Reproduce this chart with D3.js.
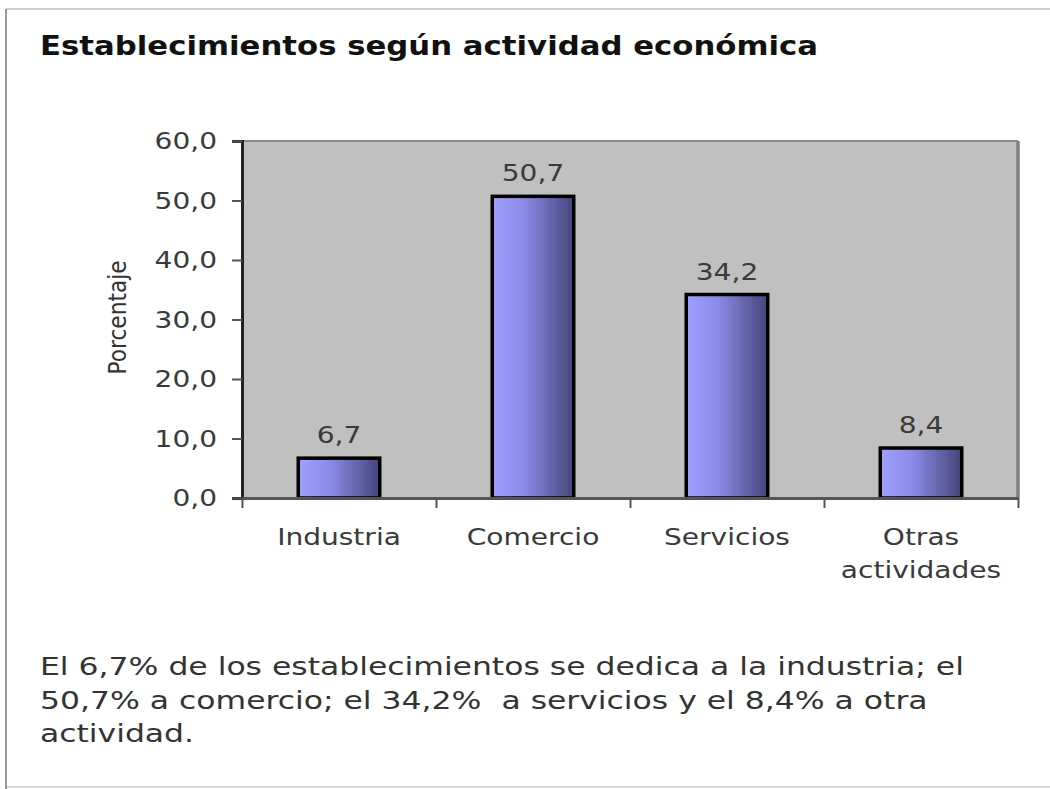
<!DOCTYPE html>
<html>
<head>
<meta charset="utf-8">
<script src="https://cdn.jsdelivr.net/npm/d3@7"></script>
<style>
  body { margin: 0; background: #fff; }
  text { font-family: "DejaVu Sans", Verdana, sans-serif; white-space: pre; }
</style>
</head>
<body>
<div id="chart"></div>
<script>
// data
var categories = ["Industria", "Comercio", "Servicios", "Otras actividades"];
var categoryLines = [["Industria"], ["Comercio"], ["Servicios"], ["Otras", "actividades"]];
var values = [6.7, 50.7, 34.2, 8.4];
var yTicks = [0, 10, 20, 30, 40, 50, 60];
var title = "Establecimientos según actividad económica";
var yLabel = "Porcentaje";
var note = [
  "El 6,7% de los establecimientos se dedica a la industria; el",
  "50,7% a comercio; el 34,2%  a servicios y el 8,4% a otra",
  "actividad."
];

var W = 1050, H = 789;
var plot = {left: 242, right: 1018, top: 141, bottom: 498};
var sx = 1.22; // text in the picture is stretched sideways

var comma = function(v, f) { return d3.format(f)(v).replace(".", ","); };

var svg = d3.select("#chart").append("svg")
  .attr("width", W)
  .attr("height", H);

// gradient for bars
var grad = svg.append("defs").append("linearGradient")
  .attr("id", "barGrad")
  .attr("x1", "0%").attr("x2", "100%").attr("y1", "0%").attr("y2", "0%");
grad.append("stop").attr("offset", "0%").attr("stop-color", "#a0a0ff");
grad.append("stop").attr("offset", "40%").attr("stop-color", "#8a8ae6");
grad.append("stop").attr("offset", "100%").attr("stop-color", "#45457a");

// outer frame
svg.append("line").attr("x1", 6).attr("x2", W).attr("y1", 9).attr("y2", 9)
  .attr("stroke", "#d0d0d0").attr("stroke-width", 2);
svg.append("line").attr("x1", 6).attr("x2", W).attr("y1", 787).attr("y2", 787)
  .attr("stroke", "#d8d8d8").attr("stroke-width", 2);
svg.append("line").attr("x1", 6).attr("x2", 6).attr("y1", 9).attr("y2", H)
  .attr("stroke", "#9a9a9a").attr("stroke-width", 2);

// scales
var x = d3.scaleBand()
  .domain(categories)
  .range([plot.left, plot.right])
  .padding(0);

var xEdge = d3.scaleLinear()
  .domain([0, categories.length])
  .range([plot.left, plot.right]);

var y = d3.scaleLinear()
  .domain([0, 60])
  .range([plot.bottom, plot.top]);

var barW = x.bandwidth() * 0.42;

// plot background
svg.append("rect")
  .attr("x", plot.left).attr("y", plot.top)
  .attr("width", plot.right - plot.left)
  .attr("height", plot.bottom - plot.top)
  .attr("fill", "#c0c0c0");

// top and right border of plot
svg.append("line").attr("x1", plot.left).attr("x2", plot.right)
  .attr("y1", plot.top).attr("y2", plot.top)
  .attr("stroke", "#8a8a8a").attr("stroke-width", 2);
svg.append("line").attr("x1", plot.right).attr("x2", plot.right)
  .attr("y1", plot.top).attr("y2", plot.bottom)
  .attr("stroke", "#808080").attr("stroke-width", 3.5);

// bars
svg.selectAll(".bar")
  .data(values)
  .enter()
  .append("rect")
  .attr("class", "bar")
  .attr("x", function(d, i) { return x(categories[i]) + (x.bandwidth() - barW) / 2; })
  .attr("y", function(d) { return y(d); })
  .attr("width", barW)
  .attr("height", function(d) { return y(0) - y(d); })
  .attr("fill", "url(#barGrad)")
  .attr("stroke", "#000")
  .attr("stroke-width", 3.5);

// value labels
svg.selectAll(".val")
  .data(values)
  .enter()
  .append("text")
  .attr("class", "val")
  .attr("transform", function(d, i) {
    return "translate(" + (x(categories[i]) + x.bandwidth() / 2) + "," + (y(d) - 15) + ") scale(" + sx + ",1)";
  })
  .attr("text-anchor", "middle")
  .style("font-size", "23px")
  .style("fill", "#3a3a3a")
  .text(function(d) { return comma(d, ".1f"); });

// y axis
var yAxis = d3.axisLeft(y)
  .tickValues(yTicks)
  .tickSize(10)
  .tickFormat("");

var yg = svg.append("g")
  .attr("transform", "translate(" + plot.left + ",0)")
  .call(yAxis);
yg.select(".domain").attr("stroke", "#222").attr("stroke-width", 3);
yg.selectAll(".tick line").attr("stroke", "#555").attr("stroke-width", 2);

svg.selectAll(".ytick")
  .data(yTicks)
  .enter()
  .append("text")
  .attr("class", "ytick")
  .attr("transform", function(d) { return "translate(217," + (y(d) + 8) + ") scale(" + sx + ",1)"; })
  .attr("text-anchor", "end")
  .style("font-size", "23px")
  .style("fill", "#3a3a3a")
  .text(function(d) { return comma(d, ".1f"); });

// x axis: ticks at category boundaries
var xAxis = d3.axisBottom(xEdge)
  .tickValues(d3.range(categories.length + 1))
  .tickSize(10)
  .tickSizeOuter(0)
  .tickFormat("");

var xg = svg.append("g")
  .attr("transform", "translate(0," + plot.bottom + ")")
  .call(xAxis);
xg.select(".domain").attr("stroke", "#555").attr("stroke-width", 3);
xg.selectAll(".tick line").attr("stroke", "#555").attr("stroke-width", 2);

// category labels
categoryLines.forEach(function(lines, i) {
  lines.forEach(function(line, j) {
    svg.append("text")
      .attr("transform", "translate(" + (x(categories[i]) + x.bandwidth() / 2) + "," + (545 + j * 33) + ") scale(" + sx + ",1)")
      .attr("text-anchor", "middle")
      .style("font-size", "23px")
      .style("fill", "#3a3a3a")
      .text(line);
  });
});

// y axis label
svg.append("text")
  .attr("transform", "translate(126," + ((plot.top + plot.bottom) / 2 - 2) + ") rotate(-90)")
  .attr("text-anchor", "middle")
  .attr("textLength", 114)
  .attr("lengthAdjust", "spacingAndGlyphs")
  .style("font-size", "25px")
  .style("fill", "#333")
  .text(yLabel);

// title
svg.append("text")
  .attr("x", 40)
  .attr("y", 55)
  .attr("textLength", 778)
  .attr("lengthAdjust", "spacingAndGlyphs")
  .style("font-size", "27px")
  .style("font-weight", "bold")
  .style("fill", "#111")
  .text(title);

// note under the chart
svg.selectAll(".note")
  .data(note)
  .enter()
  .append("text")
  .attr("class", "note")
  .attr("transform", function(d, i) { return "translate(40," + (675 + i * 33.5) + ") scale(1.31,1)"; })
  .style("font-size", "24px")
  .style("fill", "#333")
  .text(function(d) { return d; });
</script>
</body>
</html>
